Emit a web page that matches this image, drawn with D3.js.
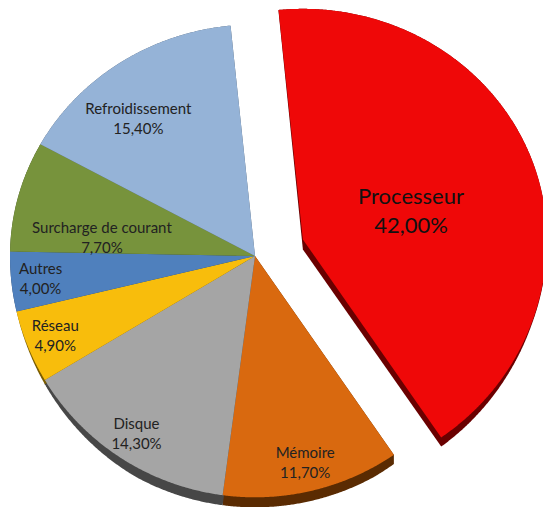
<!DOCTYPE html>
<html><head><meta charset="utf-8">
<script src="https://cdn.jsdelivr.net/npm/d3@7"></script>
<style>body{margin:0;background:#fff;overflow:hidden}</style>
</head><body><svg id="c" width="543" height="507"></svg>
<script>
// ---- data ----
const categories = ["Processeur","Mémoire","Disque","Réseau","Autres","Surcharge de courant","Refroidissement"];
const values = [42.0, 11.7, 14.3, 4.9, 4.0, 7.7, 15.4];
const exploded = ["Processeur"];

// ---- style ----
const topColors  = ["#ef0808","#d9690f","#a5a5a5","#f8bd0c","#4f80bd","#77933c","#95b3d7"];
const sideColors = ["#6a0000","#5a2b02","#474747","#7a5c00","#27405e","#3b4a1e","#4a5a6b"];

const svg = d3.select("#c");
const cx = 255, cy = 256, R = 245;
const kTop = 0.945, kBot = 0.985;   // vertical squash (tilt) for back / front half
const depth = 10;
const explodeDist = 51;
const startOffset = -0.1;

const fmt = d3.formatLocale({decimal: ",", thousands: " ", grouping: [3], currency: ["", "€"]}).format(".2f");

const pie = d3.pie().sort(null).value(d => d.value)
  .startAngle(startOffset).endAngle(startOffset + 2 * Math.PI);
const data = categories.map((c, i) => ({name: c, value: values[i], i}));
const arcs = pie(data);

function proj(a, r, ox, oy) {
  const c = Math.cos(a);
  return [cx + ox + r * Math.sin(a), cy + oy - r * c * (c > 0 ? kTop : kBot)];
}
// how much of the side wall shows at a given angle (front shows most)
function sideF(a) { return Math.max(0, Math.min(1, -Math.cos(a) * 1.6 - 0.4)); }

const shapes = arcs.map(d => {
  const isEx = exploded.includes(d.data.name);
  const mid = (d.startAngle + d.endAngle) / 2;
  let ox = 0, oy = 0, r = R;
  if (isEx) {
    ox = explodeDist * Math.sin(mid);
    oy = -explodeDist * Math.cos(mid) * kTop;
    r = 244;
  }
  const pts = [[cx + ox, cy + oy]];
  const low = [[cx + ox, cy + oy + depth]];
  const n = Math.max(8, Math.ceil((d.endAngle - d.startAngle) / 0.005));
  for (let j = 0; j <= n; j++) {
    const a = d.startAngle + (d.endAngle - d.startAngle) * j / n;
    const p = proj(a, r, ox, oy);
    pts.push(p);
    low.push([p[0], p[1] + depth * (isEx ? Math.max(0.15, sideF(a)) : sideF(a))]);
  }
  return {d, pts, low, ox, oy, r, mid, isEx};
});

const line = d3.line();
// sides (extrusion)
svg.append("g").selectAll("path").data(shapes).join("path")
  .attr("d", s => line(d3.polygonHull(s.pts.concat(s.low))) + "Z")
  .attr("fill", s => sideColors[s.d.data.i]);
// top faces
svg.append("g").selectAll("path").data(shapes).join("path")
  .attr("d", s => line(s.pts) + "Z")
  .attr("fill", s => topColors[s.d.data.i]);

// ---- labels ----
const labelLayout = {
  "Processeur": {frac: 0.46, nudge: 0.08, big: true},
  "Refroidissement": {frac: 0.76, nudge: -0.093},
  "Surcharge de courant": {frac: 0.63, nudge: -0.133}
};
const lg = svg.append("g").attr("font-family", "Lato, 'Open Sans', sans-serif").attr("text-anchor", "middle");
shapes.forEach(s => {
  const L = labelLayout[s.d.data.name] || {frac: 0.88, nudge: 0};
  const [lx, ly] = proj(s.mid + L.nudge, s.r * L.frac, s.ox, s.oy);
  const fs = L.big ? 22 : 15;
  const gap = L.big ? 29 : 20;
  const t = lg.append("text").attr("font-size", fs).attr("fill", L.big ? "#111" : "#222");
  t.append("tspan").attr("x", lx).attr("y", ly - gap / 2 + fs * 0.35).text(s.d.data.name);
  t.append("tspan").attr("x", lx).attr("y", ly + gap / 2 + fs * 0.35).text(fmt(s.d.data.value) + "%");
});
</script>
</body></html>
